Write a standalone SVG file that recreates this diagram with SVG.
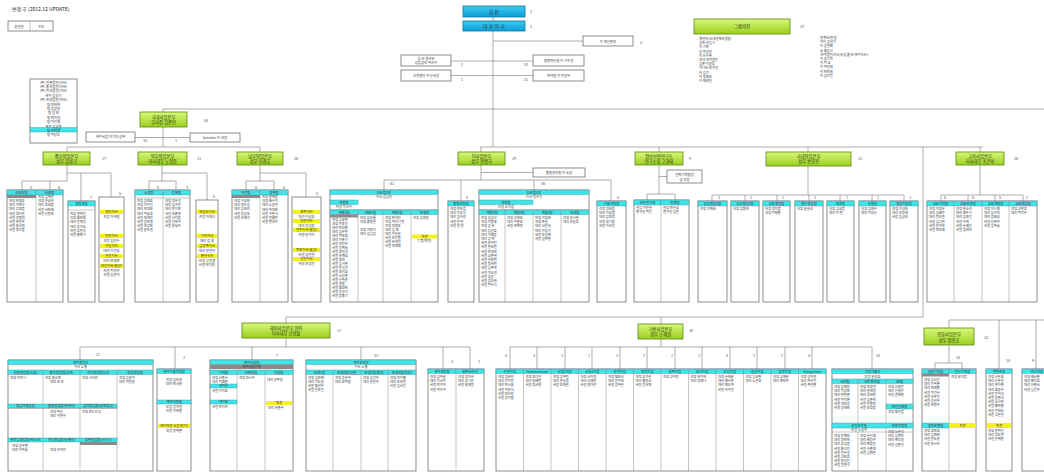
<svg xmlns="http://www.w3.org/2000/svg" width="1044" height="475" viewBox="0 0 1044 475">
<defs>
<linearGradient id="gg" x1="0" y1="0" x2="0" y2="1"><stop offset="0" stop-color="#d9f87c"/><stop offset="1" stop-color="#9bcf1f"/></linearGradient>
<linearGradient id="bg" x1="0" y1="0" x2="0" y2="1"><stop offset="0" stop-color="#3ccaf2"/><stop offset="1" stop-color="#0c9fd6"/></linearGradient>
<style>
.bx{fill:#fff;stroke:#707070;stroke-width:.8}
.cy{fill:#3ee4e8;stroke:#4f8f92;stroke-width:.4}
.ye{fill:#f4f21a}
.gy{fill:#8a8a8a}
.gn{fill:url(#gg);stroke:#5b8712;stroke-width:.8}
.bl{fill:url(#bg);stroke:#0b76a6;stroke-width:.8}
.ln{stroke:#8a8a8a;stroke-width:.7;fill:none}
.dv{stroke:#8a8a8a;stroke-width:.5;fill:none}
text{font-family:"Noto Sans CJK KR","Noto Sans",sans-serif;fill:#333}
.s{font-size:3.3px}
.m{font-size:3.4px;text-anchor:middle}
.g{font-size:4.3px;text-anchor:middle;fill:#1f3300}
.n{font-size:3.8px;fill:#555}
.t{font-size:5px;fill:#222}
</style>
</defs>
<rect width="1044" height="475" fill="#fff"/>

<g id="connectors">
<path class="ln" d="M493,17V21 M493,31V147 M493,41H583 M451,61H533 M451,75.5H533 M163,109H1044 M163,109V112 M163,127V147 M135,137.5H190 M67,147H260 M67,147V152 M260,147V152
M67,165V181 M22,181H67 M22,181V190 M50,181V190 M67,173H111 M81,173V201 M111,173V197
M162,165V181 M149,181H176 M149,181V190 M176,181V190 M162,173H207 M207,173V200
M260,165V181 M246,181H274 M246,181V190 M274,181V190 M260,173H306 M306,173V197
M480,147H983 M481,147V152 M481,165V180 M481,172.5H533 M384,180H611 M384,180V190 M461,180V201 M534,180V190 M611,180V201
M659,147V152 M659,165V194 M659,176.5H667 M647,194H675 M647,194V200 M675,194V200
M808,147V152 M808,166V195 M712,195H904 M712,195V201 M745,195V201 M777,195V201 M809,195V201 M840,195V201 M872,195V201 M904,195V201
M980,147V152 M980,165V195 M941,195H1023 M941,195V201 M968,195V201 M995,195V201 M1023,195V201
M923,147V317 M286,317H923 M286,317V323 M286,338V347 M80,347H470 M80,347V360 M175,347V369 M252,347V360 M361,347V360 M443,347V369 M470,347V369
M661,317V324 M661,339V347 M510,347H872 M510,347V369 M537,347V369 M565,347V369 M592,347V369 M620,347V369 M647,347V369 M675,347V369 M702,347V369 M730,347V369 M757,347V369 M785,347V369 M812,347V369 M872,347V369
M949,320H1044 M949,320V328 M999,320V369 M1036,320V369 M949,345V363 M935,363H962 M935,363V369 M962,363V369"/>
</g>

<g id="title">
<text class="t" x="12" y="11">변경 후 (2012.12 UPDATE)</text>
<rect class="bx" x="8" y="21" width="45" height="10"/>
<line class="dv" x1="30" y1="21" x2="30" y2="31"/>
<text class="m" x="19" y="27.5">총인원</text>
<text class="m" x="41" y="27.5">372</text>
</g>

<g id="chairman">
<rect class="bl" x="463" y="6" width="62" height="11"/>
<text x="494" y="13.5" font-size="5" text-anchor="middle" fill="#111">회        장</text>
<text class="n" x="530" y="13">1</text>
</g>
<g id="ceo">
<rect class="bl" x="463" y="21" width="62" height="10"/>
<text x="494" y="28" font-size="5" text-anchor="middle" fill="#111">대 표 이 사</text>
<text class="n" x="530" y="28">1</text>
</g>
<g id="it">
<rect class="bx" x="583" y="36" width="50" height="10"/>
<text class="m" x="608" y="42.5">IT 혁신본부</text>
<text class="n" x="640" y="44">4</text>
</g>
<g id="audit">
<rect class="bx" x="401" y="55" width="50" height="11"/>
<text class="m" x="426" y="59.5">감    사  정근모</text>
<text class="m" x="426" y="64">상임감사 최근수</text>
<text class="n" x="461" y="66">1</text>
</g>
<g id="cs">
<rect class="bx" x="401" y="70" width="50" height="11"/>
<text class="m" x="426" y="76.8">고객센터 이 신사장</text>
<text class="n" x="461" y="80.5">1</text>
</g>
<g id="innov">
<rect class="bx" x="533" y="55" width="51" height="11"/>
<text class="m" x="558.5" y="61.8">경영혁신실 이 기수장</text>
<text class="n" x="524" y="66">10</text>
</g>
<g id="overseas">
<rect class="bx" x="533" y="70" width="51" height="11"/>
<text class="m" x="558.5" y="76.8">해외팀 이 이강우</text>
<text class="n" x="524" y="80.5">11</text>
</g>

<g id="vision">
<rect class="gn" x="694" y="19" width="96" height="15"/>
<text class="g" x="742" y="28">그룹비전</text>
<text class="n" x="800" y="28">37</text>
<text class="s" x="697" y="40"><tspan x="697" dy="0">- 계열사(국내관계사업팀)</tspan><tspan x="699" dy="4.2">김민 선임기</tspan><tspan x="699" dy="4.2">이 기혁</tspan><tspan x="699" dy="4.2">김 혁성원</tspan><tspan x="699" dy="4.2">이 이수복</tspan><tspan x="697" dy="4.2">- 국내 해외법인</tspan><tspan x="699" dy="4.2">김준 이원장</tspan><tspan x="699" dy="4.2">가나오 박가원</tspan><tspan x="699" dy="4.2">허 김기</tspan><tspan x="699" dy="4.2">이 장필요</tspan><tspan x="699" dy="4.2">이 재상현</tspan></text>
<text class="s" x="818" y="39"><tspan x="818" dy="0">- 관계사(현업)</tspan><tspan x="820" dy="4.2">이이 김선기</tspan><tspan x="820" dy="4.2">이 김현배</tspan><tspan x="820" dy="4.2">소 황공식</tspan><tspan x="818" dy="4.2">- 해외법인(미국,유럽,중국(해외지사))</tspan><tspan x="820" dy="4.2">이 김기자</tspan><tspan x="820" dy="4.2">이 최 상</tspan><tspan x="820" dy="4.2">이 최선희</tspan><tspan x="820" dy="4.2">이 박민철</tspan><tspan x="820" dy="4.2">이 김지진</tspan></text>
</g>

<g id="subsidiaries">
<rect class="bx" x="30" y="79" width="47" height="64"/>
<rect class="cy" x="30" y="127.6" width="47" height="4.4"/>
<text class="m" x="53.5" y="83.5"><tspan x="53.5" dy="0">(주) 일본법인(지사)</tspan><tspan x="53.5" dy="4.4">(주) 중국법인(지사)</tspan><tspan x="53.5" dy="4.4">(주) 미국법인(지사)</tspan><tspan x="53.5" dy="4.4">해외 김상기</tspan><tspan x="53.5" dy="4.4">(주) 유럽법인(지사)</tspan><tspan x="53.5" dy="4.4">팀 정태혁</tspan><tspan x="53.5" dy="4.4">팀 김광한</tspan><tspan x="53.5" dy="4.4">팀 김 민</tspan><tspan x="53.5" dy="4.4">팀 박지원</tspan><tspan x="53.5" dy="4.4">팀 이진행</tspan><tspan x="53.5" dy="4.4">해외 김상열</tspan><tspan x="53.5" dy="4.4">팀 이지명</tspan><tspan x="53.5" dy="4.4">팀 최상도</tspan></text>
</g>

<g id="domestic">
<rect class="gn" x="140" y="112" width="47" height="15"/>
<text class="g" x="163.5" y="118.5">국내사업본부</text>
<text class="g" x="163.5" y="124">부사장 김준민</text>
<text class="n" x="204" y="122">44</text>
</g>
<g id="domestic-overseas">
<rect class="bx" x="86" y="132" width="49" height="10"/>
<text class="m" x="110.5" y="138.3">해외사업 이기조 상무</text>
<text class="n" x="143" y="141.5">10</text>
</g>
<g id="solution">
<rect class="bx" x="190" y="133" width="50" height="9"/>
<text class="m" x="215" y="138.8">Solution 이 국장</text>
<text class="n" x="175" y="141.5">1</text>
</g>

<g id="central">
<rect class="gn" x="43" y="152" width="47" height="13"/>
<text class="g" x="66.5" y="157.6">중부영업본부</text>
<text class="g" x="66.5" y="162.6">상무 김상기</text>
<text class="n" x="102" y="160">27</text>
<rect class="bx" x="7" y="190" width="56" height="112"/>
<line class="dv" x1="36" y1="190" x2="36" y2="302"/>
<rect class="cy" x="7" y="190" width="29" height="5"/><rect class="cy" x="36" y="190" width="27" height="5"/>
<rect class="gy" x="7" y="195" width="29" height="3"/>
<text class="m" x="21.5" y="193.8">여의도팀</text><text class="m" x="49.5" y="193.8">서초팀</text>
<text class="n" x="30" y="188.5">8</text><text class="n" x="58" y="188.5">6</text>
<text class="s" x="9" y="202"><tspan x="9" dy="0">과장 박철호</tspan><tspan x="9" dy="4.2">대리 이민수</tspan><tspan x="9" dy="4.2">대리 김영훈</tspan><tspan x="9" dy="4.2">사원 정다은</tspan><tspan x="9" dy="4.2">사원 강동원</tspan><tspan x="9" dy="4.2">사원 조현우</tspan><tspan x="9" dy="4.2">사원 윤서연</tspan><tspan x="9" dy="4.2">사원 장지훈</tspan></text>
<text class="s" x="38" y="198"><tspan x="38" dy="0">차장 임재현</tspan><tspan x="38" dy="4.2">과장 한상우</tspan><tspan x="38" dy="4.2">대리 오세훈</tspan><tspan x="38" dy="4.2">사원 서민재</tspan><tspan x="38" dy="4.2">사원 신동욱</tspan></text>
<rect class="bx" x="68" y="201" width="27" height="101"/>
<rect class="cy" x="68" y="201" width="27" height="5"/>
<line class="dv" x1="68" y1="210" x2="95" y2="210"/>
<text class="m" x="81.5" y="204.8">영등포팀</text>
<text class="n" x="90" y="199">7</text>
<text class="s" x="70" y="215"><tspan x="70" dy="0">차장 권혁진</tspan><tspan x="70" dy="4.2">과장 황보람</tspan><tspan x="70" dy="4.2">대리 안재성</tspan><tspan x="70" dy="4.2">대리 송지호</tspan><tspan x="70" dy="4.2">사원 류현석</tspan><tspan x="70" dy="4.2">사원 홍민기</tspan></text>
<rect class="bx" x="99" y="197" width="25" height="105"/>
<text class="n" x="119" y="195">5</text>
<rect class="ye" x="100" y="210" width="23" height="4"/><text class="m" x="111.5" y="213.2">경인지사</text>
<text class="m" x="111.5" y="218">과장 이해원</text>
<rect class="ye" x="100" y="234" width="23" height="4"/><text class="m" x="111.5" y="237.2">인천지사</text>
<text class="m" x="111.5" y="242">과장 김현수</text>
<rect class="ye" x="100" y="244" width="23" height="4"/><text class="m" x="111.5" y="247.2">수원지사</text>
<text class="m" x="111.5" y="252">대리 이진호</text>
<rect class="ye" x="100" y="254" width="23" height="4"/><text class="m" x="111.5" y="257.2">안산지사</text>
<text class="m" x="111.5" y="262">대리 박경민</text>
<rect class="ye" x="100" y="264" width="23" height="4"/><text class="m" x="111.5" y="267.2">부천지사(출장)</text>
<text class="m" x="111.5" y="272"><tspan x="111.5" dy="0">사원 최정우</tspan><tspan x="111.5" dy="4.2">사원 김은지</tspan></text>
</g>

<g id="north">
<rect class="gn" x="138" y="152" width="49" height="13"/>
<text class="g" x="162.5" y="157.6">북부영업본부</text>
<text class="g" x="162.5" y="162.6">이사대우 노정원</text>
<text class="n" x="197" y="160">21</text>
<rect class="bx" x="135" y="190" width="55" height="112"/>
<line class="dv" x1="163" y1="190" x2="163" y2="302"/>
<rect class="cy" x="135" y="190" width="28" height="5"/><rect class="cy" x="163" y="190" width="27" height="5"/>
<line class="dv" x1="135" y1="198" x2="190" y2="198"/>
<text class="m" x="149" y="193.8">노원팀</text><text class="m" x="176.5" y="193.8">강북팀</text>
<text class="n" x="157" y="188.5">8</text><text class="n" x="186" y="188.5">7</text>
<text class="s" x="137" y="202"><tspan x="137" dy="0">차장 김태호</tspan><tspan x="137" dy="4.2">과장 이수진</tspan><tspan x="137" dy="4.2">대리 박정민</tspan><tspan x="137" dy="4.2">대리 최윤호</tspan><tspan x="137" dy="4.2">사원 정해인</tspan><tspan x="137" dy="4.2">사원 강민경</tspan><tspan x="137" dy="4.2">사원 조성민</tspan><tspan x="137" dy="4.2">사원 윤도현</tspan></text>
<text class="s" x="165" y="202"><tspan x="165" dy="0">과장 장우석</tspan><tspan x="165" dy="4.2">대리 임수빈</tspan><tspan x="165" dy="4.2">대리 한지민</tspan><tspan x="165" dy="4.2">사원 오준영</tspan><tspan x="165" dy="4.2">사원 서지훈</tspan><tspan x="165" dy="4.2">사원 신민아</tspan><tspan x="165" dy="4.2">사원 권상우</tspan></text>
<rect class="bx" x="196" y="200" width="22" height="102"/>
<text class="n" x="213" y="198">6</text>
<rect class="ye" x="197" y="210" width="20" height="4"/><text class="m" x="207" y="213.2">의정부지사</text>
<text class="m" x="207" y="218">과장 이태식</text>
<rect class="ye" x="197" y="234" width="20" height="4"/><text class="m" x="207" y="237.2">구리지사</text>
<text class="m" x="207" y="242">대리 김 율</text>
<rect class="ye" x="197" y="244" width="20" height="4"/><text class="m" x="207" y="247.2">남양주지사</text>
<text class="m" x="207" y="252">대리 정현우</text>
<rect class="ye" x="197" y="254" width="20" height="4"/><text class="m" x="207" y="257.2">춘천지사</text>
<text class="m" x="207" y="262"><tspan x="207" dy="0">사원 고진영</tspan><tspan x="207" dy="4.2">사원 박다인</tspan></text>
</g>

<g id="south">
<rect class="gn" x="237" y="152" width="46" height="13"/>
<text class="g" x="260" y="157.6">남부영업본부</text>
<text class="g" x="260" y="162.6">상무 이경호</text>
<text class="n" x="294" y="160">16</text>
<rect class="bx" x="232" y="190" width="56" height="112"/>
<line class="dv" x1="260" y1="190" x2="260" y2="302"/>
<rect class="cy" x="232" y="190" width="28" height="5"/><rect class="cy" x="260" y="190" width="28" height="5"/>
<rect class="gy" x="232" y="195" width="28" height="3"/>
<text class="m" x="246" y="193.8">대전팀</text><text class="m" x="274" y="193.8">광주팀</text>
<text class="n" x="255" y="188.5">6</text><text class="n" x="283" y="188.5">5</text>
<text class="s" x="234" y="202"><tspan x="234" dy="0">과장 이상민</tspan><tspan x="234" dy="4.2">대리 정우성</tspan><tspan x="234" dy="4.2">대리 김보라</tspan><tspan x="234" dy="4.2">사원 송강호</tspan><tspan x="234" dy="4.2">사원 유재석</tspan></text>
<text class="s" x="262" y="198"><tspan x="262" dy="0">차장 문재훈</tspan><tspan x="262" dy="4.2">과장 배수지</tspan><tspan x="262" dy="4.2">대리 노승현</tspan><tspan x="262" dy="4.2">대리 하정민</tspan><tspan x="262" dy="4.2">사원 구본석</tspan><tspan x="262" dy="4.2">사원 전혜린</tspan><tspan x="262" dy="4.2">사원 변정수</tspan></text>
<rect class="bx" x="292" y="197" width="29" height="105"/>
<text class="n" x="316" y="195">5</text>
<rect class="ye" x="293" y="210" width="27" height="4"/><text class="m" x="306.5" y="213.2">청주지사</text>
<text class="m" x="306.5" y="217.8">대리 이상호</text>
<rect class="ye" x="293" y="219" width="27" height="4"/><text class="m" x="306.5" y="222.2">천안지사</text>
<text class="m" x="306.5" y="226.8">대리 강성훈</text>
<rect class="ye" x="293" y="228" width="27" height="4"/><text class="m" x="306.5" y="231.2">전주지사(출장)</text>
<text class="m" x="306.5" y="235.8">사원 윤지수</text>
<rect class="ye" x="293" y="248" width="27" height="4"/><text class="m" x="306.5" y="251.2">목포지사(출장)</text>
<text class="m" x="306.5" y="255.8">사원 김한결</text>
<rect class="ye" x="293" y="257" width="27" height="4"/><text class="m" x="306.5" y="260.2">순천지사</text>
<text class="m" x="306.5" y="264.8">사원 조성진</text>
</g>

<g id="si">
<rect class="gn" x="458" y="152" width="47" height="13"/>
<text class="g" x="481.5" y="157.6">SI사업본부</text>
<text class="g" x="481.5" y="162.6">상무 전병국</text>
<text class="n" x="512" y="160">29</text>
<rect class="bx" x="533" y="168" width="52" height="9"/>
<text class="m" x="559" y="173.8">품질관리팀 이 소장</text>
<text class="n" x="390" y="185">61</text><text class="n" x="541" y="185">46</text>
<text class="n" x="466" y="199">5</text><text class="n" x="617" y="199">5</text>
</g>
<g id="si1">
<rect class="bx" x="330" y="190" width="108" height="112"/>
<rect class="cy" x="330" y="190" width="108" height="4.5"/>
<text class="m" x="384" y="193.5">SI사업1부</text>
<text class="m" x="384" y="198.3">이사 김성일</text>
<rect class="cy" x="330" y="200" width="28" height="4.5"/>
<text class="m" x="344" y="203.5">개발팀</text>
<text class="m" x="344" y="208.3">차장 이근수</text>
<line class="dv" x1="330" y1="209.5" x2="438" y2="209.5"/>
<rect class="cy" x="330" y="210" width="108" height="4.5"/>
<line class="dv" x1="358" y1="210" x2="358" y2="302"/><line class="dv" x1="383" y1="210" x2="383" y2="302"/><line class="dv" x1="411" y1="210" x2="411" y2="302"/>
<text class="m" x="344" y="213.5">개발1팀</text><text class="m" x="370.5" y="213.5">개발2팀</text><text class="m" x="397" y="213.5">개발3팀</text><text class="m" x="424.5" y="213.5">운영팀</text>
<rect class="gy" x="330" y="214.5" width="28" height="3"/>
<text class="s" x="332" y="221"><tspan x="332" dy="0">과장 남궁민</tspan><tspan x="332" dy="4">과장 이동건</tspan><tspan x="332" dy="4">대리 박서준</tspan><tspan x="332" dy="4">대리 김우빈</tspan><tspan x="332" dy="4">대리 최민호</tspan><tspan x="332" dy="4">대리 이준기</tspan><tspan x="332" dy="4">사원 정일우</tspan><tspan x="332" dy="4">사원 강하늘</tspan><tspan x="332" dy="4">사원 조인성</tspan><tspan x="332" dy="4">사원 윤계상</tspan><tspan x="332" dy="4">사원 장혁</tspan><tspan x="332" dy="4">사원 임시완</tspan><tspan x="332" dy="4">사원 한석규</tspan><tspan x="332" dy="4">사원 오지호</tspan><tspan x="332" dy="4">사원 서강준</tspan><tspan x="332" dy="4">사원 신하균</tspan><tspan x="332" dy="4">사원 권율</tspan><tspan x="332" dy="4">사원 황정민</tspan><tspan x="332" dy="4">사원 안성기</tspan><tspan x="332" dy="4">사원 송중기</tspan></text>
<text class="s" x="360" y="219"><tspan x="360" dy="0">차장 류승룡</tspan><tspan x="360" dy="4">과장 홍종현</tspan><tspan x="360" dy="8">과장 이민기</tspan><tspan x="360" dy="4">대리 김남길</tspan></text>
<text class="s" x="385" y="219"><tspan x="385" dy="0">차장 박해일</tspan><tspan x="385" dy="4">과장 최다니엘</tspan><tspan x="385" dy="4">과장 정경호</tspan><tspan x="385" dy="4">대리 김 영</tspan><tspan x="385" dy="4">대리 이선균</tspan><tspan x="385" dy="4">사원 조진웅</tspan><tspan x="385" dy="4">사원 유해진</tspan><tspan x="385" dy="4">사원 정재영</tspan></text>
<text class="s" x="413" y="219"><tspan x="413" dy="0">과장 김래원</tspan></text>
<rect class="ye" x="412" y="234.5" width="25" height="4"/>
<text class="m" x="424.5" y="237.6">파견</text>
<text class="m" x="424.5" y="242">7 명(파견)</text>
</g>
<g id="si-qa">
<rect class="bx" x="448" y="201" width="26" height="101"/>
<rect class="cy" x="448" y="201" width="26" height="5"/>
<text class="m" x="461" y="204.8">품질보증팀</text>
<text class="s" x="450" y="210"><tspan x="450" dy="0">과장 박보검</tspan><tspan x="450" dy="4.2">대리 이종석</tspan><tspan x="450" dy="4.2">대리 김수현</tspan><tspan x="450" dy="4.2">사원 현 빈</tspan><tspan x="450" dy="4.2">사원 원 빈</tspan></text>
</g>
<g id="si2">
<rect class="bx" x="479" y="190" width="110" height="112"/>
<rect class="cy" x="479" y="190" width="110" height="4.5"/>
<text class="m" x="534" y="193.5">SI사업2부</text>
<text class="m" x="534" y="198.3">이사 정우진</text>
<rect class="cy" x="479" y="200" width="54" height="4.5"/>
<text class="m" x="506" y="203.5">개발팀</text>
<text class="m" x="506" y="208.3">차장 소지섭</text>
<line class="dv" x1="479" y1="209.5" x2="589" y2="209.5"/>
<rect class="cy" x="479" y="210" width="110" height="4.5"/>
<line class="dv" x1="505" y1="210" x2="505" y2="302"/><line class="dv" x1="533" y1="210" x2="533" y2="302"/><line class="dv" x1="561" y1="210" x2="561" y2="302"/>
<text class="m" x="492" y="213.5">개발1팀</text><text class="m" x="519" y="213.5">개발2팀</text><text class="m" x="547" y="213.5">개발3팀</text><text class="m" x="575" y="213.5">운영팀</text>
<text class="s" x="481" y="219"><tspan x="481" dy="0">차장 김성규</tspan><tspan x="481" dy="4.2">과장 이동욱</tspan><tspan x="481" dy="4.2">과장 공 유</tspan><tspan x="481" dy="4.2">대리 김선호</tspan><tspan x="481" dy="4.2">대리 이제훈</tspan><tspan x="481" dy="4.2">대리 김 혁</tspan><tspan x="481" dy="4.2">사원 유아인</tspan><tspan x="481" dy="4.2">사원 변요한</tspan><tspan x="481" dy="4.2">사원 박정민</tspan><tspan x="481" dy="4.2">사원 류준열</tspan><tspan x="481" dy="4.2">사원 안보현</tspan><tspan x="481" dy="4.2">사원 정해인</tspan><tspan x="481" dy="4.2">사원 남주혁</tspan><tspan x="481" dy="4.2">사원 이도현</tspan><tspan x="481" dy="4.2">사원 송강</tspan><tspan x="481" dy="4.2">사원 김도완</tspan><tspan x="481" dy="4.2">사원 최우식</tspan></text>
<text class="s" x="507" y="219"><tspan x="507" dy="0">과장 강태오</tspan><tspan x="507" dy="4.2">대리 이준호</tspan><tspan x="507" dy="4.2">사원 옥택연</tspan></text>
<text class="s" x="535" y="219"><tspan x="535" dy="0">차장 지창욱</tspan><tspan x="535" dy="4.2">과장 주원</tspan><tspan x="535" dy="4.2">대리 서인국</tspan><tspan x="535" dy="4.2">대리 이승기</tspan><tspan x="535" dy="4.2">사원 육성재</tspan><tspan x="535" dy="4.2">사원 임주환</tspan></text>
<text class="s" x="563" y="219"><tspan x="563" dy="0">과장 윤시윤</tspan><tspan x="563" dy="4.2">대리 유승호</tspan></text>
</g>
<g id="si-support">
<rect class="bx" x="597" y="201" width="29" height="101"/>
<rect class="cy" x="597" y="201" width="29" height="5"/>
<text class="m" x="611.5" y="204.8">기술지원팀</text>
<text class="s" x="599" y="210"><tspan x="599" dy="0">과장 양세종</tspan><tspan x="599" dy="4.2">대리 이상엽</tspan><tspan x="599" dy="4.2">대리 김영광</tspan><tspan x="599" dy="4.2">사원 장기용</tspan><tspan x="599" dy="4.2">사원 이서진</tspan></text>
</g>

<g id="security">
<rect class="gn" x="635" y="152" width="48" height="13"/>
<text class="g" x="659" y="157.6">정보보안연구소</text>
<text class="g" x="659" y="162.6">연구소장 고현태</text>
<text class="n" x="689" y="160">9</text>
<rect class="bx" x="667" y="170" width="35" height="13"/>
<text class="m" x="684.5" y="175.5">전략기획팀장</text>
<text class="m" x="684.5" y="180.5">김 과장</text>
<rect class="bx" x="634" y="200" width="55" height="102"/>
<line class="dv" x1="661" y1="200" x2="661" y2="302"/>
<rect class="cy" x="634" y="200" width="27" height="5"/><rect class="cy" x="661" y="200" width="28" height="5"/>
<text class="m" x="647.5" y="203.8">보안연구팀</text><text class="m" x="675" y="203.8">인증팀</text>
<text class="s" x="636" y="209"><tspan x="636" dy="0">선임 이한결</tspan><tspan x="636" dy="4.2">연구원 최진</tspan></text>
<text class="s" x="663" y="209"><tspan x="663" dy="0">선임 박수호</tspan><tspan x="663" dy="4.2">연구원 김빈</tspan></text>
</g>

<g id="domestic3">
<rect class="gn" x="766" y="152" width="85" height="14"/>
<text class="g" x="808.5" y="158">국내영업본부</text>
<text class="g" x="808.5" y="163.2">상무 송영천</text>
<text class="n" x="858" y="160">23</text>
<rect class="bx" x="698" y="201" width="29" height="101"/><rect class="cy" x="698" y="201" width="29" height="5"/>
<text class="m" x="712.5" y="204.8">공공영업1팀</text><text class="s" x="700" y="210">과장 이재욱</text>
<rect class="bx" x="731" y="201" width="28" height="101"/><rect class="cy" x="731" y="201" width="28" height="5"/>
<text class="m" x="745" y="204.8">공공영업2팀</text><text class="s" x="733" y="210">과장 김동희</text>
<rect class="bx" x="763" y="201" width="27" height="101"/><rect class="cy" x="763" y="201" width="27" height="5"/>
<text class="m" x="776.5" y="204.8">금융영업팀</text><text class="s" x="765" y="210"><tspan x="765" dy="0">차장 정지훈</tspan><tspan x="765" dy="4.2">과장 최태준</tspan></text>
<rect class="bx" x="795" y="201" width="28" height="101"/><rect class="cy" x="795" y="201" width="28" height="5"/>
<text class="m" x="809" y="204.8">통신영업팀</text><text class="s" x="797" y="210">과장 윤균상</text>
<rect class="bx" x="827" y="201" width="27" height="101"/><rect class="cy" x="827" y="201" width="27" height="5"/>
<text class="m" x="840.5" y="204.8">제조팀</text><text class="s" x="829" y="210"><tspan x="829" dy="0">과장 남궁훈</tspan><tspan x="829" dy="4.2">대리 이 현</tspan></text>
<rect class="bx" x="859" y="201" width="27" height="101"/><rect class="cy" x="859" y="201" width="27" height="5"/>
<text class="m" x="872.5" y="204.8">유통팀</text><text class="s" x="861" y="210"><tspan x="861" dy="0">과장 김태우</tspan><tspan x="861" dy="4.2">대리 이정신</tspan></text>
<rect class="bx" x="890" y="201" width="28" height="101"/><rect class="cy" x="890" y="201" width="28" height="5"/>
<text class="m" x="904" y="204.8">영업지원팀</text><text class="s" x="892" y="210"><tspan x="892" dy="0">과장 이성민</tspan><tspan x="892" dy="4.2">대리 오정세</tspan><tspan x="892" dy="4.2">사원 김성오</tspan></text>
<text class="n" x="718" y="199">1</text><text class="n" x="750" y="199">1</text><text class="n" x="782" y="199">2</text><text class="n" x="814" y="199">1</text><text class="n" x="846" y="199">2</text><text class="n" x="877" y="199">2</text><text class="n" x="909" y="199">3</text>
</g>

<g id="education">
<rect class="gn" x="956" y="152" width="48" height="13"/>
<text class="g" x="980" y="157.6">교육사업본부</text>
<text class="g" x="980" y="162.6">이사대우 조은미</text>
<text class="n" x="1014" y="160">16</text>
<rect class="bx" x="927" y="201" width="110" height="101"/>
<rect class="cy" x="927" y="201" width="110" height="5"/>
<line class="dv" x1="954" y1="201" x2="954" y2="302"/><line class="dv" x1="982" y1="201" x2="982" y2="302"/><line class="dv" x1="1009" y1="201" x2="1009" y2="302"/>
<text class="m" x="940.5" y="204.8">교육기획팀</text><text class="m" x="968" y="204.8">교육운영팀</text><text class="m" x="995.5" y="204.8">교육개발팀</text><text class="m" x="1023" y="204.8">교육영업팀</text>
<text class="s" x="929" y="210"><tspan x="929" dy="0">과장 이정은</tspan><tspan x="929" dy="4.2">대리 김혜수</tspan><tspan x="929" dy="4.2">대리 전도연</tspan><tspan x="929" dy="4.2">사원 김고은</tspan><tspan x="929" dy="4.2">사원 한지민</tspan><tspan x="929" dy="4.2">사원 박보영</tspan></text>
<text class="s" x="956" y="210"><tspan x="956" dy="0">과장 문소리</tspan><tspan x="956" dy="4.2">대리 배두나</tspan><tspan x="956" dy="4.2">대리 공효진</tspan><tspan x="956" dy="4.2">사원 수애</tspan><tspan x="956" dy="4.2">사원 손예진</tspan><tspan x="956" dy="4.2">사원 김태리</tspan></text>
<text class="s" x="984" y="210"><tspan x="984" dy="0">과장 이나영</tspan><tspan x="984" dy="4.2">대리 임수정</tspan><tspan x="984" dy="4.2">대리 송혜교</tspan><tspan x="984" dy="4.2">사원 신민아</tspan><tspan x="984" dy="4.2">사원 김하늘</tspan></text>
<text class="s" x="1011" y="210"><tspan x="1011" dy="0">과장 고현정</tspan><tspan x="1011" dy="4.2">대리 최지우</tspan></text>
<text class="n" x="944" y="199">6</text><text class="n" x="972" y="199">6</text><text class="n" x="999" y="199">5</text><text class="n" x="1026" y="199">2</text>
</g>

<g id="global">
<rect class="gn" x="242" y="323" width="88" height="15"/>
<text class="g" x="286" y="329.5">해외사업본부 전략</text>
<text class="g" x="286" y="335">이사대우 신현철</text>
<text class="n" x="337" y="332">17</text>
<text class="n" x="96" y="356">12</text><text class="n" x="183" y="359">3</text><text class="n" x="276" y="357">7</text><text class="n" x="374" y="357">13</text><text class="n" x="451" y="363">3</text><text class="n" x="478" y="363">1</text>
</g>
<g id="global-sales">
<rect class="bx" x="8" y="360" width="145" height="111"/>
<rect class="cy" x="8" y="360" width="145" height="4.5"/>
<text class="m" x="80.5" y="363.6">해외영업부</text>
<text class="m" x="80.5" y="368.3">이사 노홍</text>
<rect class="cy" x="8" y="370" width="145" height="4.5"/>
<line class="dv" x1="43" y1="370" x2="43" y2="471"/><line class="dv" x1="80" y1="370" x2="80" y2="471"/><line class="dv" x1="117" y1="370" x2="117" y2="471"/>
<text class="m" x="25.5" y="373.6">일본영업팀(도쿄)</text><text class="m" x="61.5" y="373.6">중국영업팀(상해)</text><text class="m" x="98.5" y="373.6">미국영업팀(LA)</text><text class="m" x="135" y="373.6">유럽영업팀</text>
<text class="s" x="10" y="378.5">과장 이미나</text>
<text class="s" x="45" y="378.5"><tspan x="45" dy="0">과장 왕소명</tspan><tspan x="50" dy="4.2">대리 조 민</tspan></text>
<text class="s" x="82" y="378.5">과장 스티븐</text>
<text class="s" x="119" y="378.5"><tspan x="119" dy="0">과장 김윤아</tspan><tspan x="119" dy="4.2">대리 이현종</tspan></text>
<rect class="cy" x="8" y="404" width="109" height="4"/>
<line class="dv" x1="8" y1="408.5" x2="117" y2="408.5"/>
<text class="m" x="25.5" y="407.2">동남아영업팀</text><text class="m" x="61.5" y="407.2">중동영업팀(두바이)</text><text class="m" x="98.5" y="407.2">남미영업팀(상파울루)</text>
<text class="s" x="45" y="412.5"><tspan x="50" dy="0">과장 하산</tspan><tspan x="50" dy="4.2">대리 이현우</tspan></text>
<text class="s" x="82" y="412.5">과장 로드리고</text>
<rect class="cy" x="8" y="438" width="109" height="4"/>
<rect class="gy" x="80" y="442" width="37" height="3"/>
<text class="m" x="25.5" y="441.2">베트남영업팀(하노이)</text><text class="m" x="61.5" y="441.2">인도영업팀(뉴델리)</text><text class="m" x="98.5" y="441.2">호주영업팀(시드니)</text>
<text class="s" x="10" y="446.5"><tspan x="12" dy="0">과장 응우옌</tspan><tspan x="12" dy="4.2">대리 이하늘</tspan></text>
<text class="s" x="50" y="450.5">과장 라지브</text>
</g>
<g id="global-support">
<rect class="bx" x="157" y="369" width="34" height="102"/>
<rect class="cy" x="157" y="369" width="34" height="4.5"/>
<text class="m" x="174" y="372.6">해외기술지원팀</text>
<text class="m" x="174" y="381"><tspan x="174" dy="0">과장 김도윤</tspan><tspan x="174" dy="4.2">대리 박서윤</tspan></text>
<rect class="cy" x="157" y="400" width="34" height="4"/>
<text class="m" x="174" y="403.2">해외지원팀</text>
<text class="m" x="174" y="408"><tspan x="174" dy="0">부장 강지원</tspan><tspan x="174" dy="4.2">과장 이민준</tspan></text>
<rect class="ye" x="158" y="424" width="32" height="4"/>
<text class="m" x="174" y="427.2">해외파견 소장(현지)</text>
<text class="m" x="174" y="432">과장 정하준</text>
</g>
<g id="global-biz">
<rect class="bx" x="210" y="360" width="83" height="111"/>
<rect class="cy" x="210" y="360" width="83" height="4.5"/>
<rect class="gy" x="210" y="364.5" width="83" height="4.5"/>
<text class="m" x="251.5" y="363.6">해외사업팀</text>
<text class="m" x="251.5" y="368.2" fill="#fff">해외사업기획</text>
<rect class="cy" x="210" y="370" width="83" height="4.5"/>
<line class="dv" x1="237" y1="370" x2="237" y2="471"/><line class="dv" x1="265" y1="370" x2="265" y2="471"/>
<text class="m" x="223.5" y="373.6">기획팀</text><text class="m" x="251" y="373.6">마케팅팀</text><text class="m" x="279" y="373.6">지원팀</text>
<text class="s" x="212" y="378.5"><tspan x="212" dy="0">과장 서준서</tspan><tspan x="212" dy="4.2">대리 최예준</tspan></text>
<text class="s" x="239" y="378.5">과장 정시우</text>
<text class="s" x="267" y="381">대리 강주원</text>
<rect class="cy" x="210" y="384" width="27" height="4"/><text class="m" x="223.5" y="387.2">해외A</text>
<text class="s" x="212" y="392">사원 이지호</text>
<rect class="cy" x="210" y="400" width="27" height="4"/><text class="m" x="223.5" y="403.2">해외B</text>
<text class="s" x="212" y="408">사원 박지후</text>
<rect class="ye" x="266" y="401" width="26" height="4"/><text class="m" x="279" y="404.2">파견</text>
<text class="s" x="268" y="409">대리 유준우</text>
</g>
<g id="global-ops">
<rect class="bx" x="306" y="360" width="110" height="111"/>
<rect class="cy" x="306" y="360" width="110" height="4.5"/>
<text class="m" x="361" y="363.6">해외운영부</text>
<text class="m" x="361" y="368.3">이사 노홍</text>
<rect class="cy" x="306" y="370" width="110" height="4.5"/>
<line class="dv" x1="333" y1="370" x2="333" y2="471"/><line class="dv" x1="361" y1="370" x2="361" y2="471"/><line class="dv" x1="388" y1="370" x2="388" y2="471"/>
<text class="m" x="319.5" y="373.6">운영1팀</text><text class="m" x="347" y="373.6">운영2팀(일본)</text><text class="m" x="374.5" y="373.6">운영3팀(중국)</text><text class="m" x="402" y="373.6">운영4팀(미국)</text>
<text class="s" x="308" y="378.5"><tspan x="308" dy="0">과장 김민재</tspan><tspan x="308" dy="4.2">대리 이도윤</tspan><tspan x="308" dy="4.2">사원 황선우</tspan><tspan x="308" dy="4.2">사원 안유진</tspan></text>
<text class="s" x="335" y="378.5"><tspan x="335" dy="0">과장 송은우</tspan><tspan x="335" dy="4.2">대리 오하람</tspan></text>
<text class="s" x="363" y="378.5"><tspan x="363" dy="0">과장 류건우</tspan><tspan x="363" dy="4.2">대리 한선우</tspan></text>
<text class="s" x="390" y="378.5"><tspan x="390" dy="0">과장 마이클</tspan><tspan x="390" dy="4.2">대리 조유찬</tspan><tspan x="390" dy="4.2">사원 임서진</tspan></text>
</g>
<g id="global-partner">
<rect class="bx" x="428" y="369" width="56" height="102"/>
<line class="dv" x1="456" y1="369" x2="456" y2="471"/>
<rect class="cy" x="428" y="369" width="28" height="4.5"/><rect class="cy" x="456" y="369" width="28" height="4.5"/>
<text class="m" x="442" y="372.6">해외제휴팀</text><text class="m" x="470" y="372.6">협력사관리</text>
<text class="s" x="430" y="378"><tspan x="430" dy="0">과장 김하윤</tspan><tspan x="430" dy="4.2">대리 이서아</tspan><tspan x="430" dy="4.2">사원 박지아</tspan><tspan x="430" dy="4.2">사원 최수아</tspan></text>
<text class="s" x="458" y="378"><tspan x="458" dy="0">과장 정지유</tspan><tspan x="458" dy="4.2">대리 강나은</tspan><tspan x="458" dy="4.2">사원 윤채원</tspan></text>
</g>

<g id="infra">
<rect class="gn" x="638" y="324" width="45" height="15"/>
<text class="g" x="660.5" y="330.5">기반사업본부</text>
<text class="g" x="660.5" y="336">상무 소재원</text>
<text class="n" x="689" y="332">38</text>
<text class="n" x="505" y="357">4</text><text class="n" x="533" y="357">3</text><text class="n" x="561" y="357">3</text><text class="n" x="588" y="357">1</text><text class="n" x="616" y="357">3</text><text class="n" x="643" y="357">1</text><text class="n" x="671" y="357">2</text><text class="n" x="698" y="357">1</text><text class="n" x="726" y="357">4</text><text class="n" x="753" y="357">1</text><text class="n" x="781" y="357">1</text><text class="n" x="808" y="357">4</text><text class="n" x="876" y="357">10</text>
</g>
<g id="infra-branches">
<rect class="bx" x="496" y="369" width="330" height="102"/>
<rect class="cy" x="496" y="369" width="330" height="4.5"/>
<path class="dv" d="M523.5,369V471 M551,369V471 M578.5,369V471 M606,369V471 M633.5,369V471 M661,369V471 M688.5,369V471 M716,369V471 M743.5,369V471 M771,369V471 M798.5,369V471"/>
<text class="m" x="509.8" y="372.6">수원지점</text><text class="m" x="537.3" y="372.6">Infrastructure</text><text class="m" x="564.8" y="372.6">서울1지점</text><text class="m" x="592.3" y="372.6">서울2지점</text><text class="m" x="619.8" y="372.6">인천지점</text><text class="m" x="647.3" y="372.6">대전지점</text><text class="m" x="674.8" y="372.6">광주지점</text><text class="m" x="702.3" y="372.6">대구지점</text><text class="m" x="729.8" y="372.6">부산지점</text><text class="m" x="757.3" y="372.6">울산지점</text><text class="m" x="784.8" y="372.6">창원지점</text><text class="m" x="812.3" y="372.6">Integration</text>
<text class="s" x="498" y="378"><tspan x="498" dy="0">과장 김유빈</tspan><tspan x="498" dy="4.2">대리 이지안</tspan><tspan x="498" dy="4.2">대리 박시윤</tspan><tspan x="498" dy="4.2">사원 최은서</tspan><tspan x="498" dy="4.2">사원 정수빈</tspan><tspan x="498" dy="4.2">사원 강지율</tspan></text>
<text class="s" x="525.5" y="378"><tspan x="525.5" dy="0">과장 조다인</tspan><tspan x="525.5" dy="4.2">대리 윤예린</tspan><tspan x="525.5" dy="4.2">사원 장서현</tspan></text>
<text class="s" x="553" y="378"><tspan x="553" dy="0">과장 임하린</tspan><tspan x="553" dy="4.2">대리 한소율</tspan><tspan x="553" dy="4.2">사원 오채은</tspan></text>
<text class="s" x="580.5" y="378"><tspan x="580.5" dy="0">과장 서지원</tspan><tspan x="580.5" dy="4.2">대리 신예은</tspan><tspan x="580.5" dy="4.2">사원 권다은</tspan></text>
<text class="s" x="608" y="378"><tspan x="608" dy="0">과장 황민서</tspan><tspan x="608" dy="4.2">대리 안수민</tspan><tspan x="608" dy="4.2">사원 송하은</tspan></text>
<text class="s" x="635.5" y="378"><tspan x="635.5" dy="0">과장 류가은</tspan><tspan x="635.5" dy="4.2">대리 홍윤서</tspan><tspan x="635.5" dy="4.2">사원 전서영</tspan></text>
<text class="s" x="663" y="378"><tspan x="663" dy="0">과장 고아린</tspan></text>
<text class="s" x="690.5" y="378"><tspan x="690.5" dy="0">과장 문지민</tspan><tspan x="690.5" dy="4.2">대리 양예나</tspan></text>
<text class="s" x="718" y="378"><tspan x="718" dy="0">과장 손태윤</tspan><tspan x="718" dy="4.2">대리 배시온</tspan><tspan x="718" dy="4.2">대리 백도하</tspan><tspan x="718" dy="4.2">사원 허이안</tspan></text>
<text class="s" x="745.5" y="378"><tspan x="745.5" dy="0">과장 남궁준</tspan><tspan x="745.5" dy="4.2">대리 노은호</tspan></text>
<text class="s" x="773" y="378"><tspan x="773" dy="0">과장 심재윤</tspan><tspan x="773" dy="4.2">대리 곽민우</tspan></text>
<text class="s" x="800.5" y="378"><tspan x="800.5" dy="0">과장 성지한</tspan><tspan x="800.5" dy="4.2">대리 차우진</tspan><tspan x="800.5" dy="4.2">사원 주현준</tspan></text>
</g>
<g id="infra-tech">
<rect class="bx" x="832" y="369" width="81" height="102"/>
<rect class="cy" x="832" y="369" width="81" height="4.5"/>
<text class="m" x="872.5" y="372.6">기반기술부</text>
<text class="m" x="872.5" y="377.6">부장 윤승호</text>
<rect class="cy" x="832" y="379" width="81" height="4.5"/>
<line class="dv" x1="858" y1="379" x2="858" y2="423"/><line class="dv" x1="886" y1="379" x2="886" y2="471"/>
<text class="m" x="845" y="382.6">서버팀</text><text class="m" x="872" y="382.6">네트워크팀</text><text class="m" x="899.5" y="382.6">DB팀</text>
<text class="s" x="834" y="388"><tspan x="834" dy="0">과장 김재원</tspan><tspan x="834" dy="4.2">대리 이승민</tspan><tspan x="834" dy="4.2">대리 박현준</tspan><tspan x="834" dy="4.2">사원 최지환</tspan><tspan x="834" dy="4.2">사원 정민성</tspan><tspan x="834" dy="4.2">사원 강태민</tspan></text>
<text class="s" x="860" y="388"><tspan x="860" dy="0">과장 조승현</tspan><tspan x="860" dy="4.2">대리 윤태양</tspan><tspan x="860" dy="4.2">대리 장세현</tspan><tspan x="860" dy="4.2">사원 임준혁</tspan><tspan x="860" dy="4.2">사원 한동민</tspan><tspan x="860" dy="4.2">사원 오정훈</tspan></text>
<text class="s" x="888" y="388"><tspan x="888" dy="0">과장 서영진</tspan><tspan x="888" dy="4.2">대리 신경수</tspan><tspan x="888" dy="4.2">사원 권태환</tspan></text>
<rect class="cy" x="886" y="404" width="27" height="5"/>
<text class="m" x="899.5" y="407.6">보안관제팀</text>
<text class="s" x="888" y="413">과장 황인범</text>
<rect class="cy" x="832" y="423" width="81" height="5"/>
<line class="dv" x1="832" y1="432" x2="913" y2="432"/>
<text class="m" x="859" y="426.6">유지보수팀</text><text class="m" x="899.5" y="426.6">운영지원팀</text>
<text class="m" x="859" y="431">과장 노승우</text>
<line class="dv" x1="858" y1="432" x2="858" y2="471"/>
<text class="s" x="834" y="437"><tspan x="834" dy="0">과장 안재민</tspan><tspan x="834" dy="4.2">대리 송민혁</tspan><tspan x="834" dy="4.2">대리 류성훈</tspan><tspan x="834" dy="4.2">사원 홍석진</tspan><tspan x="834" dy="4.2">사원 전우성</tspan><tspan x="834" dy="4.2">사원 고민호</tspan><tspan x="834" dy="4.2">사원 문성진</tspan><tspan x="834" dy="4.2">사원 양현석</tspan></text>
<text class="s" x="860" y="437"><tspan x="860" dy="0">과장 손진영</tspan><tspan x="860" dy="4.2">대리 배성우</tspan><tspan x="860" dy="4.2">대리 백종원</tspan><tspan x="860" dy="4.2">사원 허준영</tspan><tspan x="860" dy="4.2">사원 남태현</tspan></text>
<text class="s" x="888" y="433"><tspan x="888" dy="0">과장 노현석</tspan><tspan x="888" dy="4.2">대리 심형탁</tspan><tspan x="888" dy="4.2">대리 곽도원</tspan><tspan x="888" dy="4.2">사원 성동일</tspan></text>
</g>

<g id="culture">
<rect class="gn" x="924" y="328" width="50" height="17"/>
<text class="g" x="949" y="335.5">문화사업본부</text>
<text class="g" x="949" y="341.5">상무 정영호</text>
<text class="n" x="984" y="339">25</text>
<text class="n" x="956" y="359">15</text><text class="n" x="1006" y="362">14</text><text class="n" x="1032" y="362">9</text>
</g>
<g id="culture-teams">
<rect class="bx" x="922" y="369" width="54" height="102"/>
<line class="dv" x1="949" y1="369" x2="949" y2="471"/>
<rect class="cy" x="922" y="369" width="27" height="4.5"/><rect class="cy" x="949" y="369" width="27" height="4.5"/>
<rect class="gy" x="922" y="373.5" width="27" height="3"/>
<text class="m" x="935.5" y="372.6">공연기획팀</text><text class="m" x="962.5" y="372.6">전시기획팀</text>
<text class="s" x="924" y="381"><tspan x="924" dy="0">과장 김서진</tspan><tspan x="924" dy="4.2">대리 이하준</tspan><tspan x="924" dy="4.2">대리 박예준</tspan><tspan x="924" dy="4.2">사원 최건우</tspan><tspan x="924" dy="4.2">사원 정우진</tspan><tspan x="924" dy="4.2">사원 강선우</tspan><tspan x="924" dy="4.2">사원 조연우</tspan></text>
<text class="s" x="951" y="378">과장 윤지훈</text>
<rect class="cy" x="922" y="423" width="27" height="5"/><text class="m" x="935.5" y="426.6">공연운영팀</text>
<rect class="ye" x="949" y="423" width="27" height="5"/><text class="m" x="962.5" y="426.6">파견</text>
<text class="s" x="924" y="432"><tspan x="924" dy="0">과장 장민호</tspan><tspan x="924" dy="4.2">대리 임재희</tspan><tspan x="924" dy="4.2">사원 한도윤</tspan><tspan x="924" dy="4.2">사원 오시우</tspan></text>
<rect class="bx" x="986" y="369" width="26" height="102"/>
<rect class="cy" x="986" y="369" width="26" height="4.5"/>
<text class="m" x="999" y="372.6">콘텐츠팀</text>
<text class="s" x="988" y="378"><tspan x="988" dy="0">과장 서은호</tspan><tspan x="988" dy="4.2">대리 신유찬</tspan><tspan x="988" dy="4.2">대리 권이준</tspan><tspan x="988" dy="4.2">대리 황승우</tspan><tspan x="988" dy="4.2">사원 안지성</tspan><tspan x="988" dy="4.2">사원 송준서</tspan><tspan x="988" dy="4.2">사원 류시현</tspan><tspan x="988" dy="4.2">사원 홍민준</tspan><tspan x="988" dy="4.2">사원 전태오</tspan><tspan x="988" dy="4.2">사원 고은찬</tspan></text>
<rect class="ye" x="987" y="423" width="24" height="5"/><text class="m" x="999" y="426.6">파견</text>
<text class="s" x="988" y="432"><tspan x="988" dy="0">과장 문하진</tspan><tspan x="988" dy="4.2">대리 양도현</tspan><tspan x="988" dy="4.2">사원 손재윤</tspan></text>
<rect class="bx" x="1022" y="369" width="30" height="102"/>
<rect class="cy" x="1022" y="369" width="30" height="4.5"/>
<text class="m" x="1037" y="372.6">미디어팀</text>
<text class="s" x="1024" y="378"><tspan x="1024" dy="0">과장 배서준</tspan><tspan x="1024" dy="4.2">대리 백지호</tspan><tspan x="1024" dy="4.2">대리 허준서</tspan><tspan x="1024" dy="4.2">사원 남건우</tspan></text>
</g>
</svg>
